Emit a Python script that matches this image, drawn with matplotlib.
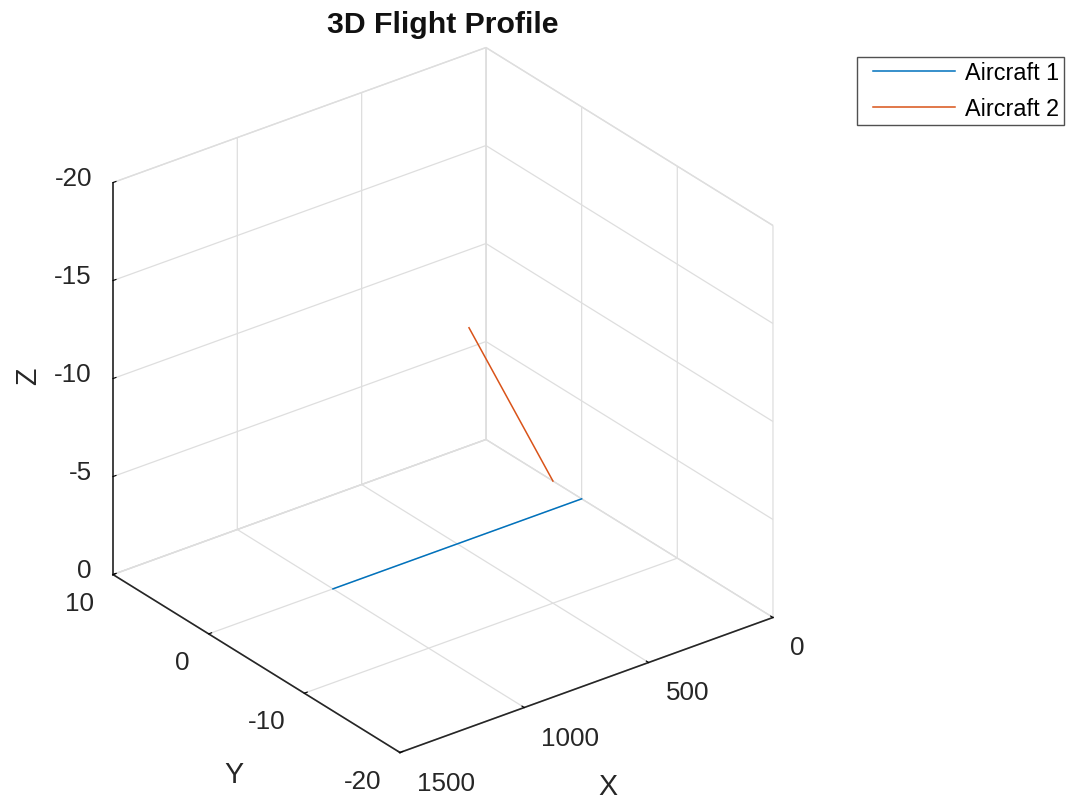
import numpy as np
import matplotlib
matplotlib.use('Agg')
from matplotlib import pyplot as plt
from matplotlib.lines import Line2D
from matplotlib.legend_handler import HandlerLine2D
from mpl_toolkits.mplot3d import proj3d

plt.rcParams['font.family'] = ['Liberation Sans', 'DejaVu Sans']
plt.rcParams['grid.color'] = '#dedede'
plt.rcParams['grid.linewidth'] = 0.9
plt.rcParams['axes.edgecolor'] = '#262626'
plt.rcParams['axes.linewidth'] = 1.2

# flight tracks (x, y, z)
ac1_x = [0, 1000]
ac1_y = [0, 0]
ac1_z = [0, 0]
ac2_x = [1030, 0]
ac2_y = [-15, 3]
ac2_z = [-18, 0]
names = ['Aircraft 1', 'Aircraft 2']
colors = ['#0072BD', '#D95319']

x_ticks = [0, 500, 1000, 1500]
y_ticks = [-20, -10, 0, 10]
z_ticks = [-20, -15, -10, -5, 0]

W, H = 1067, 800
TICK_FS = 18.7
LABEL_FS = 20.6

fig = plt.figure(figsize=(W / 100, H / 100), dpi=100)
S = 760
ax = fig.add_axes([52.7 / W, 9.7 / H, S / W, S / H], projection='3d', proj_type='ortho')
ax.view_init(elev=28.28, azim=52.62)
ax.set_box_aspect((469.4, 472.7, 445.1), zoom=1.0234)

ax.plot(ac1_x, ac1_y, ac1_z, color=colors[0], lw=1.1, label=names[0])
ax.plot(ac2_x, ac2_y, ac2_z, color=colors[1], lw=1.1, label=names[1])

ax.set_xlim(0, 1500)
ax.set_ylim(10, -20)
ax.set_zlim(0, -20)
ax.set_xticks(x_ticks)
ax.set_yticks(y_ticks)
ax.set_zticks(z_ticks)
ax.set_xticklabels([])
ax.set_yticklabels([])
ax.set_zticklabels([])

for axis in (ax.xaxis, ax.yaxis, ax.zaxis):
    axis.set_pane_color((1, 1, 1, 1))
    axis.pane.set_edgecolor('#dedede')
    axis._axinfo['tick']['inward_factor'] = 0.0
    axis._axinfo['tick']['outward_factor'] = 0.1

fig.canvas.draw()


def to_px(x, y, z):
    xs, ys, _ = proj3d.proj_transform(x, y, z, ax.get_proj())
    return ax.transData.transform((xs, ys))


def put(px, py, s, **kw):
    fig.text(px / W, py / H, s, **kw)


for z in z_ticks:
    p = to_px(1500, 10, z)
    put(p[0] - 21, p[1] + 4, str(z), ha='right', va='center', fontsize=TICK_FS, color='#262626')
for y in y_ticks:
    p = to_px(1500, y, 0)
    put(p[0] - 19, p[1] - 29, str(y), ha='right', va='center', fontsize=TICK_FS, color='#262626')
for x in x_ticks:
    p = to_px(x, -20, 0)
    put(p[0] + 17, p[1] - 31, str(x), ha='left', va='center', fontsize=TICK_FS, color='#262626')

p0, p1 = to_px(0, -20, 0), to_px(1500, -20, 0)
put((p0[0] + p1[0]) / 2 + 21, (p0[1] + p1[1]) / 2 - 102, 'X', ha='center', va='center',
    fontsize=LABEL_FS, color='#262626')
p0, p1 = to_px(1500, 10, 0), to_px(1500, -20, 0)
put((p0[0] + p1[0]) / 2 - 23, (p0[1] + p1[1]) / 2 - 111, 'Y', ha='center', va='center',
    fontsize=LABEL_FS, color='#262626')
p0, p1 = to_px(1500, 10, 0), to_px(1500, 10, -20)
put((p0[0] + p1[0]) / 2 - 85, (p0[1] + p1[1]) / 2 + 2, 'Z', ha='center', va='center',
    rotation=90, fontsize=LABEL_FS, color='#262626')

fig.text(443 / W, 1 - 33 / H, '3D Flight Profile', ha='center', va='baseline',
         fontsize=21.8, fontweight='bold', color='#111111')

handles, labels = ax.get_legend_handles_labels()
leg = fig.legend(handles, labels, loc='upper left', bbox_to_anchor=(857 / W, 1 - 57 / H),
                 borderaxespad=0, fancybox=False, fontsize=16.8, handlelength=4.0,
                 handletextpad=0.43, borderpad=0.2, labelspacing=0.55,
                 handler_map={Line2D: HandlerLine2D(xpad=0.485)})
leg.get_frame().set_edgecolor('#262626')
leg.get_frame().set_linewidth(1.0)

fig.savefig('out.png', dpi=100)
